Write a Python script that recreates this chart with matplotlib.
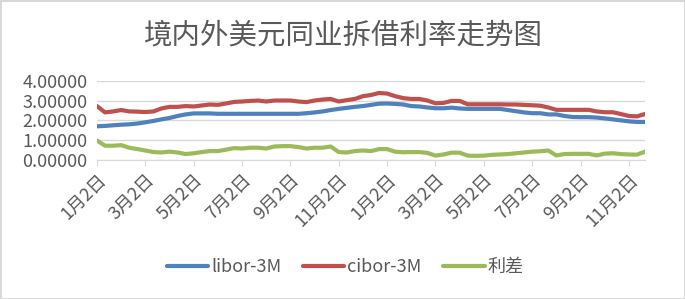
import matplotlib.pyplot as plt
import numpy as np

plt.rcParams['font.family'] = ['Noto Sans CJK SC', 'DejaVu Sans']

# data (roughly 6 points per two-month tick)
libor = [1.70, 1.72, 1.75, 1.78, 1.80, 1.84, 1.90, 1.97, 2.05, 2.12, 2.22, 2.30,
         2.35, 2.35, 2.35, 2.33, 2.33, 2.33, 2.33, 2.33, 2.33, 2.33, 2.33, 2.33,
         2.33, 2.33, 2.36, 2.40, 2.45, 2.52, 2.58, 2.63, 2.68, 2.72, 2.78, 2.84,
         2.85, 2.83, 2.80, 2.72, 2.70, 2.65, 2.61, 2.61, 2.64, 2.60, 2.58, 2.58,
         2.58, 2.58, 2.58, 2.52, 2.46, 2.40, 2.36, 2.36, 2.30, 2.30, 2.22, 2.17,
         2.16, 2.16, 2.14, 2.10, 2.05, 2.00, 1.95, 1.92, 1.92]
cibor = [2.72, 2.40, 2.45, 2.52, 2.45, 2.44, 2.42, 2.45, 2.60, 2.68, 2.68, 2.72,
         2.70, 2.75, 2.80, 2.78, 2.85, 2.93, 2.95, 2.98, 3.00, 2.95, 3.00, 3.00,
         3.00, 2.95, 2.92, 3.00, 3.05, 3.08, 2.95, 3.02, 3.08, 3.22, 3.28, 3.38,
         3.35, 3.22, 3.12, 3.08, 3.08, 3.00, 2.86, 2.88, 2.98, 2.98, 2.81, 2.81,
         2.81, 2.81, 2.81, 2.80, 2.80, 2.78, 2.76, 2.74, 2.65, 2.53, 2.53, 2.53,
         2.53, 2.53, 2.45, 2.41, 2.41, 2.32, 2.22, 2.20, 2.32]
spread = [0.98, 0.72, 0.72, 0.75, 0.62, 0.55, 0.48, 0.40, 0.38, 0.42, 0.38, 0.30,
          0.34, 0.40, 0.45, 0.45, 0.52, 0.60, 0.58, 0.62, 0.62, 0.58, 0.68, 0.70,
          0.70, 0.65, 0.58, 0.62, 0.62, 0.68, 0.40, 0.38, 0.45, 0.48, 0.45, 0.55,
          0.55, 0.42, 0.39, 0.40, 0.40, 0.36, 0.22, 0.28, 0.37, 0.37, 0.22, 0.21,
          0.22, 0.26, 0.28, 0.30, 0.34, 0.38, 0.42, 0.44, 0.48, 0.23, 0.30, 0.31,
          0.31, 0.31, 0.23, 0.32, 0.34, 0.30, 0.28, 0.27, 0.42]
tick_labels = ['1月2日', '3月2日', '5月2日', '7月2日', '9月2日', '11月2日',
               '1月2日', '3月2日', '5月2日', '7月2日', '9月2日', '11月2日']

x = np.arange(len(libor))
grey = '#595959'

fig = plt.figure(figsize=(6.85, 2.99), dpi=100, facecolor='white',
                 edgecolor='#D9D9D9', linewidth=2)
ax = fig.add_axes([97 / 685, 1 - 160 / 299, 548 / 685, 79.3 / 299])

l1, = ax.plot(x, libor, color='#4F81BD', lw=3, solid_capstyle='round')
l2, = ax.plot(x, cibor, color='#C0504D', lw=3, solid_capstyle='round')
l3, = ax.plot(x, spread, color='#9BBB59', lw=3, solid_capstyle='round')

ax.set_xlim(0, len(x) - 1)
ax.set_ylim(0, 4)
ax.set_yticks([0, 1, 2, 3, 4])
ax.set_yticklabels(['%.5f' % v for v in [0, 1, 2, 3, 4]], fontsize=13, color=grey)
ax.set_xticks(x[::6])
ax.set_xticklabels(tick_labels, fontsize=13, color=grey, rotation=45,
                   ha='right', rotation_mode='anchor')
ax.tick_params(axis='y', length=0, pad=7)
ax.tick_params(axis='x', length=4, color='#D9D9D9', pad=4)
ax.grid(axis='y', color='#D9D9D9', lw=1)
ax.set_axisbelow(True)
for s in ['top', 'right', 'left']:
    ax.spines[s].set_visible(False)
ax.spines['bottom'].set_color('#D9D9D9')

fig.text(0.5, 1 - 36 / 299, '境内外美元同业拆借利率走势图', ha='center', va='center',
         fontsize=20.5, color=grey, fontweight='light')

fig.legend([l1, l2, l3], ['libor-3M', 'cibor-3M', '利差'], loc='center',
           bbox_to_anchor=(345 / 685, 1 - 267 / 299), ncol=3, frameon=False,
           fontsize=13, handlelength=2.3, handletextpad=0.15, columnspacing=1.2,
           labelcolor=grey)

fig.savefig('out.png', dpi=100, facecolor=fig.get_facecolor(),
            edgecolor=fig.get_edgecolor())
